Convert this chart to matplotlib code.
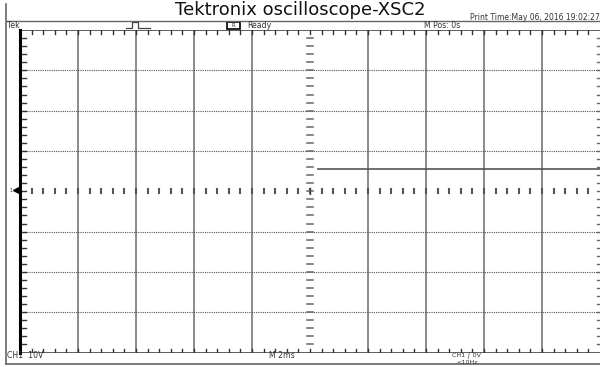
import matplotlib
matplotlib.use('Agg')
import matplotlib.pyplot as plt
from matplotlib.lines import Line2D
from matplotlib.patches import Rectangle

# scope settings
volts_per_div = 10.0
ms_per_div = 2.0
n_xdiv = 10
n_ydiv = 8

# CH1 trace (time in ms, voltage in V)
trace_t = [0.27, 10.0]
trace_v = [5.5, 5.5]

title = 'Tektronix oscilloscope-XSC2'
print_time = 'Print Time:May 06, 2016 19:02:27'

W, H = 600, 367
fig = plt.figure(figsize=(6.0, 3.67), dpi=100)
fig.patch.set_facecolor('white')

def fx(px):
    return px / W

def fy(py):
    return 1 - py / H

# screen area
ax = fig.add_axes([fx(20), fy(352.5), fx(600) - fx(20), fy(30) - fy(352.5)])
xmax = n_xdiv / 2 * ms_per_div
ymax = n_ydiv / 2 * volts_per_div
ax.set_xlim(-xmax, xmax)
ax.set_ylim(-ymax, ymax)
ax.set_xticks([])
ax.set_yticks([])
for s in ['top', 'bottom', 'right']:
    ax.spines[s].set_visible(False)
ax.spines['left'].set_linewidth(2.2)
ax.spines['left'].set_color('black')

# vertical grid (solid grey), horizontal grid (dotted)
for k in range(1, n_xdiv):
    x = -xmax + k * ms_per_div
    if abs(x) < 1e-9:
        continue
    ax.axvline(x, color='#8a8a8a', lw=1.4, zorder=1)
for k in range(1, n_ydiv):
    y = -ymax + k * volts_per_div
    if abs(y) < 1e-9:
        continue
    ax.axhline(y, color='#555555', lw=0.8, ls=(0, (1, 1)), zorder=1)

# top/bottom edge lines
ax.axhline(ymax, color='#444444', lw=1.2, zorder=1)
ax.axhline(-ymax, color='#444444', lw=1.2, zorder=1)

# minor ticks along edges and center lines
xstep = ms_per_div / 5
ystep = volts_per_div / 5
tx = [-xmax + i * xstep for i in range(1, n_xdiv * 5)]
ty = [-ymax + i * ystep for i in range(1, n_ydiv * 5)]
for x in tx:
    ax.plot([x, x], [ymax, ymax - 0.9], color='#333333', lw=1.0, zorder=2)
    ax.plot([x, x], [-ymax, -ymax + 0.9], color='#333333', lw=1.0, zorder=2)
    ax.plot([x, x], [-0.5, 0.5], color='#555555', lw=1.5, zorder=2)
for y in ty:
    ax.plot([-xmax, -xmax + 0.2], [y, y], color='#333333', lw=1.0, zorder=2)
    ax.plot([xmax, xmax - 0.12], [y, y], color='#666666', lw=1.0, zorder=2)
    ax.plot([-0.11, 0.11], [y, y], color='#666666', lw=1.1, zorder=2)
ax.plot([0, 0], [-0.8, 0.8], color='#444444', lw=1.0, zorder=2)

# trace
ax.plot(trace_t, trace_v, color='#555555', lw=1.2, zorder=3)

# outer frame and header bar
fig.add_artist(Line2D([fx(6), fx(6)], [fy(4), fy(363.5)], color='#666666', lw=1.2))
fig.add_artist(Line2D([fx(6), 1.0], [fy(363.5), fy(363.5)], color='#666666', lw=1.2))
fig.add_artist(Line2D([fx(6), 1.0], [fy(21), fy(21)], color='#666666', lw=1.0))

# ground marker
fig.text(fx(11), fy(190.5), '1', fontsize=3.5, color='#333388', ha='center', va='center')
fig.add_artist(Line2D([fx(15.5)], [fy(190.5)], marker='<', markersize=4, color='black', lw=0))

# pulse symbol in header
fig.add_artist(Line2D([fx(126), fx(132), fx(132), fx(138), fx(138), fx(150)],
                      [fy(27.5), fy(27.5), fy(22), fy(22), fy(27.5), fy(27.5)],
                      color='#444444', lw=0.9))
fig.add_artist(Rectangle((fx(227), fy(29)), fx(13), fy(22) - fy(29),
                         fill=False, edgecolor='black', lw=1.2))

fs = 5.6
fig.text(0.5, fy(10), title, fontsize=13, ha='center', va='center', color='#111111')
fig.text(fx(470), fy(17.5), print_time, fontsize=5.5, ha='left', va='center', color='#333333')
fig.text(fx(7), fy(25.5), 'Tek', fontsize=fs, ha='left', va='center', color='#333333')
fig.text(fx(233.5), fy(25.5), 'R', fontsize=3.8, ha='center', va='center', color='#333333')
fig.text(fx(247), fy(25.5), 'Ready', fontsize=fs, ha='left', va='center', color='#333333')
fig.text(fx(424), fy(25.5), 'M Pos: 0s', fontsize=fs, ha='left', va='center', color='#333333')
fig.text(fx(7), fy(356), 'CH1  10V', fontsize=fs, ha='left', va='center', color='#333333')
fig.text(fx(269), fy(356), 'M 2ms', fontsize=fs, ha='left', va='center', color='#333333')
fig.text(fx(452), fy(355.5), 'CH1 \u222b 0V', fontsize=4.6, ha='left', va='center', color='#333333')
fig.text(fx(456), fy(363), '<10Hz', fontsize=4.6, ha='left', va='center', color='#333333')

fig.savefig('out.png', dpi=100)
